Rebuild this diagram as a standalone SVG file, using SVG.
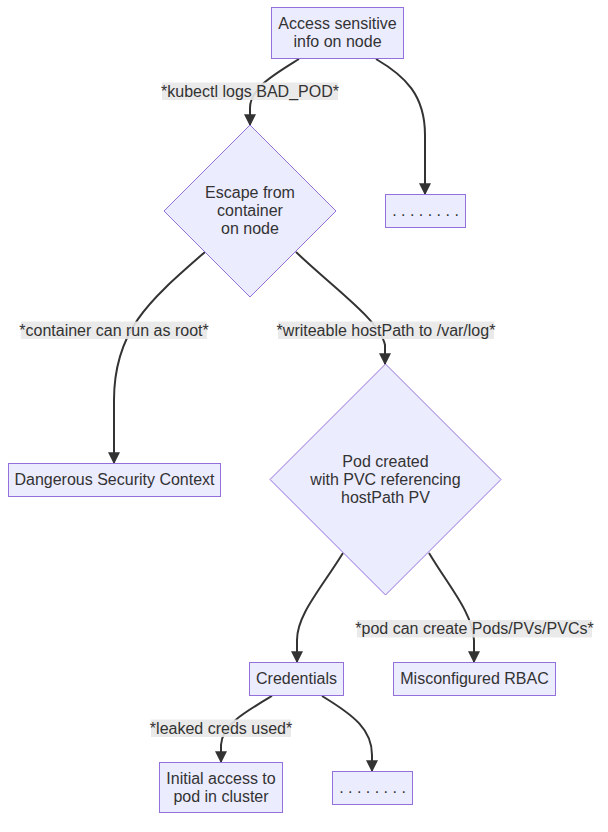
<svg xmlns="http://www.w3.org/2000/svg" width="608" height="832" viewBox="0 0 608 832">
<style>
  .node rect, .node polygon { fill: #ECECFF; stroke: #9370DB; stroke-width: 1; }
  .node text, .elabel text { font-family: "Liberation Sans", Arial, sans-serif; font-size: 16px; fill: #333; text-anchor: middle; }
  .edge { fill: none; stroke: #333; stroke-width: 2; marker-end: url(#arrow); }
  .elabel rect { fill: #e8e8e8; opacity: 0.9; }
</style>
<defs>
  <marker id="arrow" viewBox="0 0 10 10" refX="9" refY="5" markerWidth="12" markerHeight="12" markerUnits="userSpaceOnUse" orient="auto">
    <path d="M0,0 L10,5 L0,10 z" fill="#333"/>
  </marker>
</defs>
<rect width="608" height="832" fill="#ffffff"/>
<g id="edges">
  <path class="edge" d="M299,59 C275,74 250,88 250,108 L250,125"/>
  <path class="edge" d="M376,59 C405,76 425,95 425,135 L425,194"/>
  <path class="edge" d="M205,252 C150,300 114,330 114,400 L114,463"/>
  <path class="edge" d="M296,252 C330,285 380,320 385,345 L385,364"/>
  <path class="edge" d="M343,553 C320,590 297,615 297,640 L297,662"/>
  <path class="edge" d="M429,553 C450,588 472,612 474,640 L474,662"/>
  <path class="edge" d="M272,696 C245,712 222,725 221,745 L221,762"/>
  <path class="edge" d="M322,696 C355,716 372,730 372,755 L372,771"/>
</g>
<g id="edge-labels">
  <g class="elabel"><rect x="162" y="82.5" width="176" height="17.5"/><text x="250" y="96.5">*kubectl logs BAD_POD*</text></g>
  <g class="elabel"><rect x="21" y="321.5" width="186" height="17.5"/><text x="114" y="335.5">*container can run as root*</text></g>
  <g class="elabel"><rect x="278" y="321.5" width="216" height="17.5"/><text x="386" y="335.5">*writeable hostPath to /var/log*</text></g>
  <g class="elabel"><rect x="357" y="620" width="235" height="17.5"/><text x="474.5" y="634">*pod can create Pods/PVs/PVCs*</text></g>
  <g class="elabel"><rect x="151" y="719.5" width="140" height="17.5"/><text x="221" y="733.5">*leaked creds used*</text></g>
</g>
<g id="A" class="node">
  <rect x="271.5" y="7.5" width="132" height="51"/>
  <text x="337.5" y="29">Access sensitive</text>
  <text x="337.5" y="47">info on node</text>
</g>
<g id="B" class="node">
  <polygon points="250,125 336,211 250,297 164,211"/>
  <text x="250" y="198">Escape from</text>
  <text x="250" y="216">container</text>
  <text x="250" y="234">on node</text>
</g>
<g id="D1" class="node">
  <rect x="385.5" y="194.5" width="80" height="33"/>
  <text x="425.5" y="216">. . . . . . . .</text>
</g>
<g id="DSC" class="node">
  <rect x="8.5" y="463.5" width="212" height="33"/>
  <text x="114.5" y="485">Dangerous Security Context</text>
</g>
<g id="C" class="node">
  <polygon points="385.5,364 501,479.5 385.5,595 270,479.5"/>
  <text x="385.5" y="467">Pod created</text>
  <text x="385.5" y="485">with PVC referencing</text>
  <text x="385.5" y="503">hostPath PV</text>
</g>
<g id="CRED" class="node">
  <rect x="249.5" y="662.5" width="94" height="33"/>
  <text x="296.5" y="684">Credentials</text>
</g>
<g id="RBAC" class="node">
  <rect x="393.5" y="662.5" width="162" height="33"/>
  <text x="474.5" y="684">Misconfigured RBAC</text>
</g>
<g id="INIT" class="node">
  <rect x="159.5" y="762.5" width="123" height="50"/>
  <text x="221" y="784">Initial access to</text>
  <text x="221" y="802">pod in cluster</text>
</g>
<g id="D2" class="node">
  <rect x="332.5" y="771.5" width="80" height="33"/>
  <text x="372.5" y="793">. . . . . . . .</text>
</g>
</svg>
